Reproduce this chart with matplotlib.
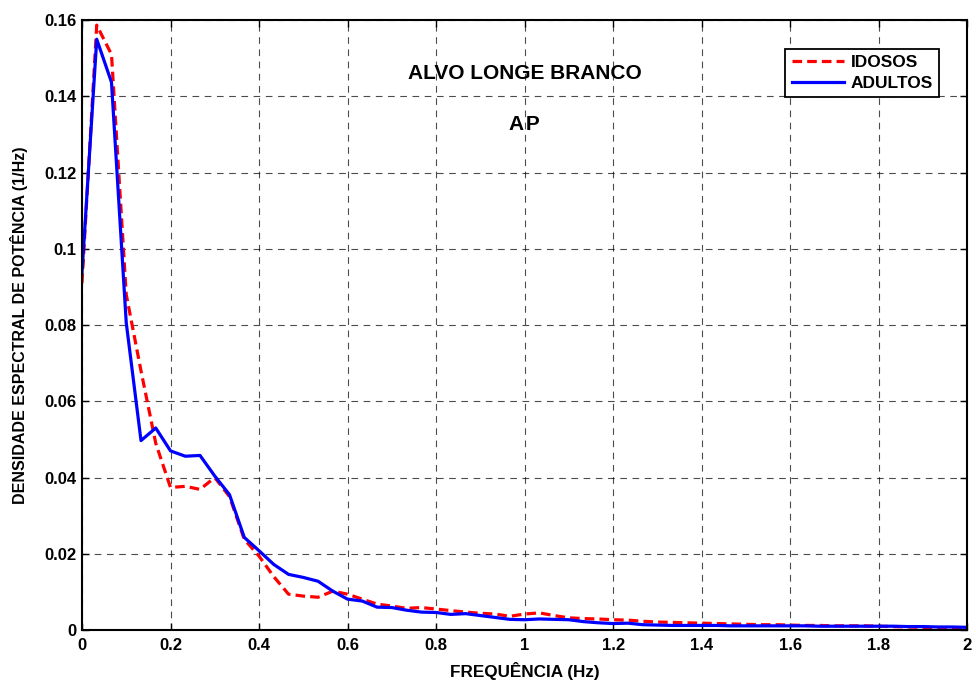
import numpy as np
import matplotlib
matplotlib.use('Agg')
import matplotlib.pyplot as plt

plt.rcParams['font.family'] = ['Liberation Sans', 'DejaVu Sans']
plt.rcParams['font.weight'] = 'bold'

# frequency axis: 0 .. 2 Hz, step 1/30
freq = np.arange(61) / 30.0

# IDOSOS (red dashed)
idosos = [0.0910, 0.1587, 0.1510, 0.0880, 0.0680, 0.0490, 0.0374, 0.0377, 0.0369, 0.0400,
          0.0350, 0.0238, 0.0194, 0.0140, 0.0094, 0.0089, 0.0086, 0.0102, 0.0094, 0.0081,
          0.0068, 0.0063, 0.0057, 0.0059, 0.0055, 0.0051, 0.0047, 0.0044, 0.0042, 0.0036,
          0.0042, 0.0045, 0.0038, 0.0032, 0.0030, 0.0029, 0.0027, 0.0026, 0.0023, 0.0021,
          0.0020, 0.0019, 0.0018, 0.0017, 0.0016, 0.0015, 0.0014, 0.0014, 0.0013, 0.0012,
          0.0012, 0.0011, 0.0011, 0.0011, 0.0010, 0.0009, 0.0008, 0.0007, 0.0006, 0.0006,
          0.0005]

# ADULTOS (blue solid)
adultos = [0.0937, 0.1550, 0.1437, 0.0806, 0.0497, 0.0530, 0.0470, 0.0456, 0.0458, 0.0404,
           0.0355, 0.0243, 0.0208, 0.0172, 0.0146, 0.0138, 0.0128, 0.0102, 0.0081, 0.0076,
           0.0060, 0.0059, 0.0052, 0.0047, 0.0046, 0.0041, 0.0043, 0.0038, 0.0033, 0.0028,
           0.0027, 0.0029, 0.0028, 0.0027, 0.0022, 0.0019, 0.0017, 0.0018, 0.0014, 0.0013,
           0.0012, 0.0012, 0.0012, 0.0012, 0.0011, 0.0011, 0.0011, 0.0011, 0.0011, 0.0011,
           0.0010, 0.0010, 0.0010, 0.0010, 0.0010, 0.0010, 0.0009, 0.0009, 0.0008, 0.0008,
           0.0007]

xticks = np.arange(0, 2.01, 0.2)
xticklabels = ['0', '0.2', '0.4', '0.6', '0.8', '1', '1.2', '1.4', '1.6', '1.8', '2']
yticks = np.arange(0, 0.161, 0.02)
yticklabels = ['0', '0.02', '0.04', '0.06', '0.08', '0.1', '0.12', '0.14', '0.16']

fig = plt.figure(figsize=(9.76, 6.86), dpi=100)
ax = fig.add_axes([0.084, 0.0816, 0.907, 0.889])

ax.plot(freq, idosos, color='red', linestyle='--', linewidth=2.3, dashes=(3, 1.6), label='IDOSOS')
ax.plot(freq, adultos, color='blue', linestyle='-', linewidth=2.3, label='ADULTOS')

ax.set_xlim(0, 2)
ax.set_ylim(0, 0.16)
ax.set_xticks(xticks)
ax.set_xticklabels(xticklabels)
ax.set_yticks(yticks)
ax.set_yticklabels(yticklabels)
ax.tick_params(direction='in', top=True, right=True, labelsize=12, length=5, width=1)
ax.tick_params(axis='x', pad=6)
ax.tick_params(axis='y', pad=4)
for lab in ax.get_xticklabels() + ax.get_yticklabels():
    lab.set_fontweight('bold')
for sp in ax.spines.values():
    sp.set_linewidth(1.5)

ax.grid(True, color='black', linestyle=(0, (6, 5)), linewidth=0.8, alpha=0.7)

ax.set_xlabel('FREQUÊNCIA (Hz)', fontsize=12.3, fontweight='bold', labelpad=6)
ax.set_ylabel('DENSIDADE ESPECTRAL DE POTÊNCIA (1/Hz)', fontsize=11.5, fontweight='bold', labelpad=12)

ax.text(1.0, 0.146, 'ALVO LONGE BRANCO', ha='center', va='center', fontsize=15, fontweight='bold')
ax.text(1.0, 0.1325, 'A P'.replace(' ', '\u200a'), ha='center', va='center', fontsize=15, fontweight='bold')

leg = ax.legend(loc='upper right', bbox_to_anchor=(0.968, 0.953), fontsize=12.5, frameon=True,
                fancybox=False, edgecolor='black', framealpha=1, handlelength=3.0,
                borderpad=0.35, labelspacing=0.35, handletextpad=0.4, borderaxespad=0)
leg.get_frame().set_linewidth(1.3)
for t in leg.get_texts():
    t.set_fontweight('bold')

fig.savefig('out.png', dpi=100)
